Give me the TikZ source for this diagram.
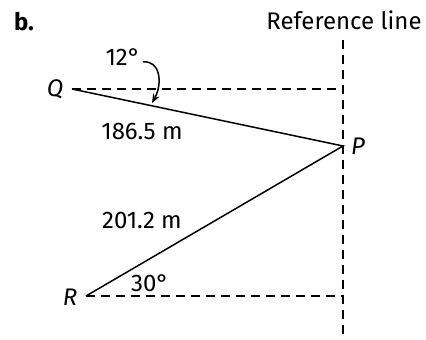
\documentclass[tikz,border=0pt]{standalone}
\usepackage{fontspec}
\setmainfont{Fira Sans}
\usetikzlibrary{arrows.meta}
\begin{document}
\begin{tikzpicture}[x=1pt,y=1pt,
  lbl/.style={font=\fontsize{24}{28}\selectfont, inner sep=0pt},
  refdash/.style={line width=1.6pt, dash pattern=on 9pt off 6pt},
  solidline/.style={line width=1.5pt},
  angarrow/.style={line width=1.5pt, -{Stealth[length=9pt,width=7pt]}}]
\useasboundingbox (0,0) rectangle (426,340);
\coordinate (Q) at (72,251);
\coordinate (P) at (343,194);
\coordinate (R) at (86,44);
\coordinate (top) at (343,300);
\coordinate (bot) at (343,0);
\coordinate (Qc) at (343,251);
\coordinate (Rc) at (343,44);
\coordinate (a1) at (143,278);
\coordinate (a2) at (152,237);
\draw[refdash] (top) -- (bot);
\draw[refdash] (Q) -- (Qc);
\draw[refdash] (R) -- (Rc);
\draw[solidline] (Q) -- (P) -- (R);
\draw[angarrow] (a1) .. controls (160,280) and (163,257) .. (a2);
\node[lbl, font=\fontsize{24}{28}\selectfont\bfseries] (b) at (24,318) {b.};
\node[lbl] (ref) at (344,320) {Reference line};
\node[lbl] (lQ) at (55,251) {\itshape Q};
\node[lbl] (lP) at (358,194) {\itshape P};
\node[lbl] (lR) at (70,43) {\itshape R};
\node[lbl] (a12) at (123,283) {12°};
\node[lbl] (d1) at (142,209) {186.5 m};
\node[lbl] (d2) at (142,120) {201.2 m};
\node[lbl] (a30) at (150,57) {30°};
\end{tikzpicture}
\end{document}
